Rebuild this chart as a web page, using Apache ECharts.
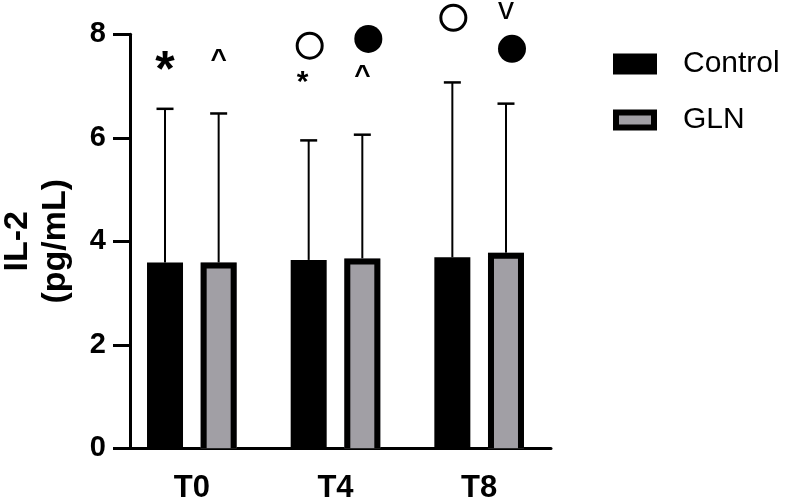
<!DOCTYPE html>
<html>
<head>
<meta charset="utf-8">
<script src="https://cdn.jsdelivr.net/npm/echarts@6/dist/echarts.min.js"></script>
<style>
  html, body { margin: 0; padding: 0; background: #fff; }
  #main { width: 788px; height: 499px; }
</style>
</head>
<body>
<div id="main"></div>
<script>
// data
const timePoints = ["T0", "T4", "T8"];
const controlMean = [3.59, 3.64, 3.69];
const controlSd = [2.97, 2.31, 3.38];
const glnMean = [3.59, 3.67, 3.78];
const glnSd = [2.88, 2.39, 2.88];
const yTicks = [0, 2, 4, 6, 8];

// significance marks (y position in pg/mL, null = none)
const bigStarCtrl = [7.46, null, null];
const smallStarCtrl = [null, 7.16, null];
const openCircleCtrl = [null, 7.78, 8.32];
const caretGln = [7.55, 7.24, null];
const filledCircleGln = [null, 7.91, 7.72];
const vGln = [null, null, 8.42];

const FONT = "Liberation Sans, Arial, sans-serif";
const BAR_W = 36;
const BAR_GAP = 0.49;
const HALF = (BAR_W + BAR_W * BAR_GAP) / 2;
const GLN_BORDER = 6;

function pairs(arr) {
  const out = [];
  arr.forEach(function (v, i) {
    if (v !== null) out.push([timePoints[i], v]);
  });
  return out;
}

function errorData(mean, sd) {
  return mean.map(function (m, i) {
    return [i, m, m + sd[i]];
  });
}

// SD whiskers (and, for GLN, the black outline of the bar: left, top, right)
function errorSeries(name, mean, sd, dx, outline) {
  return {
    name: name,
    type: "custom",
    z: 3,
    data: errorData(mean, sd),
    renderItem: function (params, api) {
      const pb = api.coord([api.value(0), 0]);
      const p0 = api.coord([api.value(0), api.value(1)]);
      const p1 = api.coord([api.value(0), api.value(2)]);
      const x = p0[0] + dx;
      const children = [
        {
          type: "line",
          shape: { x1: x, y1: p0[1], x2: x, y2: p1[1] },
          style: { stroke: "#000", lineWidth: 2 },
        },
        {
          type: "line",
          shape: { x1: x - 8.5, y1: p1[1], x2: x + 8.5, y2: p1[1] },
          style: { stroke: "#000", lineWidth: 2.5 },
        },
      ];
      if (outline) {
        const h = BAR_W / 2 - GLN_BORDER / 2;
        const t = p0[1] + GLN_BORDER / 2;
        children.push({
          type: "polyline",
          shape: {
            points: [
              [x - h, pb[1]],
              [x - h, t],
              [x + h, t],
              [x + h, pb[1]],
            ],
          },
          style: { stroke: "#000", lineWidth: GLN_BORDER, fill: null, lineJoin: "miter" },
        });
      }
      return { type: "group", children: children };
    },
  };
}

function textMark(name, arr, text, size, weight, dx, dy) {
  return {
    name: name,
    type: "scatter",
    clip: false,
    z: 5,
    symbolSize: 1,
    symbolOffset: [dx, 0],
    itemStyle: { color: "rgba(0,0,0,0)", opacity: 1 },
    data: pairs(arr),
    label: {
      show: true,
      position: "inside",
      offset: [0, dy],
      formatter: text,
      color: "#000",
      opacity: 1,
      fontFamily: FONT,
      fontSize: size,
      fontWeight: weight,
    },
  };
}

function circleMark(name, arr, filled, dx) {
  return {
    name: name,
    type: "scatter",
    clip: false,
    z: 5,
    symbol: "circle",
    symbolSize: filled ? 28 : 25,
    symbolOffset: [dx, 0],
    itemStyle: filled
      ? { color: "#000", opacity: 1 }
      : { color: "#fff", borderColor: "#000", borderWidth: 3, opacity: 1 },
    data: pairs(arr),
  };
}

let option = {
  backgroundColor: "#fff",
  animation: false,
  grid: {
    left: 120,
    right: 237,
    top: 34.3,
    bottom: 50.7,
    outerBoundsMode: "none",
    containLabel: false,
  },
  legend: {
    data: [
      { name: "Control", itemStyle: { borderWidth: 6, borderColor: "#000" } },
      { name: "GLN", itemStyle: { borderWidth: 6, borderColor: "#000" } },
    ],
    orient: "vertical",
    left: 608,
    top: 44,
    icon: "rect",
    itemWidth: 38,
    itemHeight: 15,
    itemGap: 26,
    textStyle: {
      fontFamily: FONT,
      fontSize: 30,
      color: "#000",
      padding: [0, 0, 0, 24],
    },
  },
  xAxis: {
    type: "category",
    data: timePoints,
    axisLine: { lineStyle: { color: "#000", width: 3 } },
    axisTick: {
      alignWithLabel: true,
      length: 15,
      lineStyle: { color: "#000", width: 3 },
    },
    axisLabel: {
      color: "#000",
      fontFamily: FONT,
      fontSize: 31,
      fontWeight: "bold",
      margin: 25,
    },
  },
  yAxis: {
    type: "value",
    min: yTicks[0],
    max: yTicks[yTicks.length - 1],
    interval: 2,
    offset: -10,
    name: "IL-2\n(pg/mL)",
    nameLocation: "middle",
    nameRotate: 90,
    nameGap: 55,
    nameTextStyle: {
      color: "#000",
      fontFamily: FONT,
      fontSize: 34,
      fontWeight: "bold",
      lineHeight: 38,
      align: "center",
    },
    axisLine: { show: true, lineStyle: { color: "#000", width: 3 } },
    axisTick: { show: true, length: 17, lineStyle: { color: "#000", width: 3 } },
    splitLine: { show: false },
    axisLabel: {
      color: "#000",
      fontFamily: FONT,
      fontSize: 29,
      fontWeight: "bold",
      margin: 24,
    },
  },
  series: [
    {
      name: "Control",
      type: "bar",
      barWidth: BAR_W,
      barGap: BAR_GAP * 100 + "%",
      data: controlMean,
      itemStyle: { color: "#000" },
    },
    {
      name: "GLN",
      type: "bar",
      barWidth: BAR_W,
      data: glnMean,
      itemStyle: { color: "#a19fa5" },
    },
    errorSeries("Control SD", controlMean, controlSd, -HALF, false),
    errorSeries("GLN SD", glnMean, glnSd, HALF, true),
    textMark("star big", bigStarCtrl, "*", 50, "bold", -HALF, 10),
    textMark("star small", smallStarCtrl, "*", 30, "bold", -HALF - 6, 5),
    textMark("caret", caretGln, "^", 28, "bold", HALF, 3),
    textMark("v", vGln, "v", 32, "normal", HALF, -2),
    circleMark("open circle", openCircleCtrl, false, -HALF + 1),
    circleMark("filled circle", filledCircleGln, true, HALF + 6),
  ],
};

let myChart = echarts.init(document.getElementById("main"));
option && myChart.setOption(option);
</script>
</body>
</html>
